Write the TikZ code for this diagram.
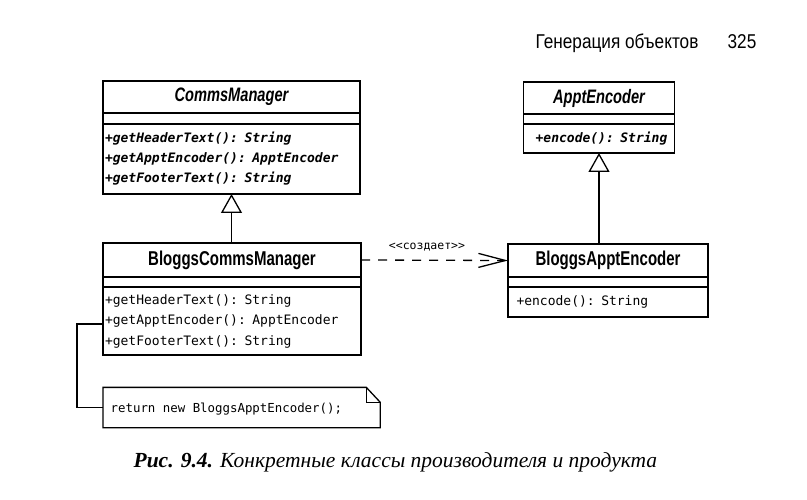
\documentclass[tikz,border=0pt]{standalone}
\usepackage{fontspec}
\setmainfont{Liberation Serif}
\setmonofont{DejaVu Sans Mono}
\newfontfamily\condfont[FakeStretch=0.75]{Liberation Sans}
\newfontfamily\hdrfont[FakeStretch=0.86]{Liberation Sans}
\usetikzlibrary{arrows.meta}
\begin{document}
\begin{tikzpicture}[x=1pt,y=-1pt,
  line width=1.3pt,
  cls/.style={draw, rectangle, inner sep=0pt, outer sep=0pt},
  clsname/.style={cls, font=\condfont\fontsize{20}{22}\selectfont\bfseries},
  absname/.style={cls, font=\condfont\fontsize{19.5}{22}\selectfont\bfseries\itshape},
  ops/.style={cls, align=left, inner xsep=2pt, font=\ttfamily\fontsize{13}{20.5}\selectfont},
  absops/.style={ops, font=\ttfamily\bfseries\itshape\fontsize{13}{20}\selectfont},
  gen/.style={-{Triangle[open,length=19pt,width=21pt,fill=white]}},
  dep/.style={dash pattern=on 9pt off 8pt, -{Straight Barb[length=27pt,width=14pt]}}
]
\useasboundingbox (0,0) rectangle (807,500);

% header
\node[anchor=base west, font=\hdrfont\fontsize{20}{22}\selectfont, inner sep=0pt] (hdr) at (535,48.5) {Генерация объектов};
\node[anchor=base west, font=\hdrfont\fontsize{20}{22}\selectfont, inner sep=0pt] (pg) at (727,48.5) {325};

% CommsManager
\node[absname, minimum width=257pt, minimum height=32pt] (cmN) at (231.5,97) {CommsManager};
\node[cls, minimum width=257pt, minimum height=11pt] (cmA) at (231.5,118.5) {};
\node[absops, minimum width=257pt, minimum height=70pt, text width=253pt] (cmO) at (231.5,159)
  {+getHeaderText(): String\\+getApptEncoder(): ApptEncoder\\+getFooterText(): String};

% BloggsCommsManager
\node[clsname, minimum width=258pt, minimum height=34pt] (bcmN) at (232,260) {BloggsCommsManager};
\node[cls, minimum width=258pt, minimum height=10pt] (bcmA) at (232,282) {};
\node[ops, minimum width=258pt, minimum height=68pt, text width=254pt] (bcmO) at (232,321)
  {+getHeaderText(): String\\+getApptEncoder(): ApptEncoder\\+getFooterText(): String};

% ApptEncoder
\node[absname, minimum width=151pt, minimum height=32pt] (aeN) at (599,98) {ApptEncoder};
\node[cls, minimum width=151pt, minimum height=10pt] (aeA) at (599,119) {};
\node[absops, align=center, minimum width=151pt, minimum height=29pt, text width=147pt] (aeO) at (599,138.5)
  {\hspace*{5pt}+encode(): String};

% BloggsApptEncoder
\node[clsname, minimum width=200pt, minimum height=33pt] (baeN) at (608,260.5) {BloggsApptEncoder};
\node[cls, minimum width=200pt, minimum height=10pt] (baeA) at (608,282) {};
\node[ops, minimum width=200pt, minimum height=30pt, text width=183pt, inner xsep=8.5pt] (baeO) at (608,302)
  {+encode(): String};

% note
\node[draw=none, inner sep=0pt, minimum width=276pt, minimum height=39pt, anchor=west] (note) at (103,407.5) {};
\node[inner sep=0pt, anchor=west, font=\ttfamily\fontsize{12.4}{14}\selectfont] (notetxt) at (110,409)
  {return new BloggsApptEncoder();};
\draw (note.north west) -- ([xshift=-14pt]note.north east) -- ([yshift=-15pt]note.north east)
  -- (note.south east) -- (note.south west) -- cycle;
\draw ([xshift=-14pt]note.north east) -- ([xshift=-14pt,yshift=-15pt]note.north east) -- ([yshift=-15pt]note.north east);

% connectors
\draw[gen] (bcmN.north -| cmO.south) -- (cmO.south);
\draw[gen] (aeO.south |- baeN.north) -- (aeO.south);
\draw[dep] (bcmN.east) -- (baeN.west);
\node[font=\ttfamily\fontsize{11.5}{13}\selectfont, inner sep=0pt] (lbl) at (427,247) {<{}<создает>{}>};

\coordinate (nstart) at (103,324);
\coordinate (bend) at (77,324);
\draw (nstart) -- (bend) |- (note.west);

% caption
\node[anchor=base west, inner sep=0pt, font=\fontsize{21.5}{24}\selectfont] (cap) at (133,467)
  {\textbf{\textit{Рис. 9.4.}} \textit{Конкретные классы производителя и продукта}};
\end{tikzpicture}
\end{document}
